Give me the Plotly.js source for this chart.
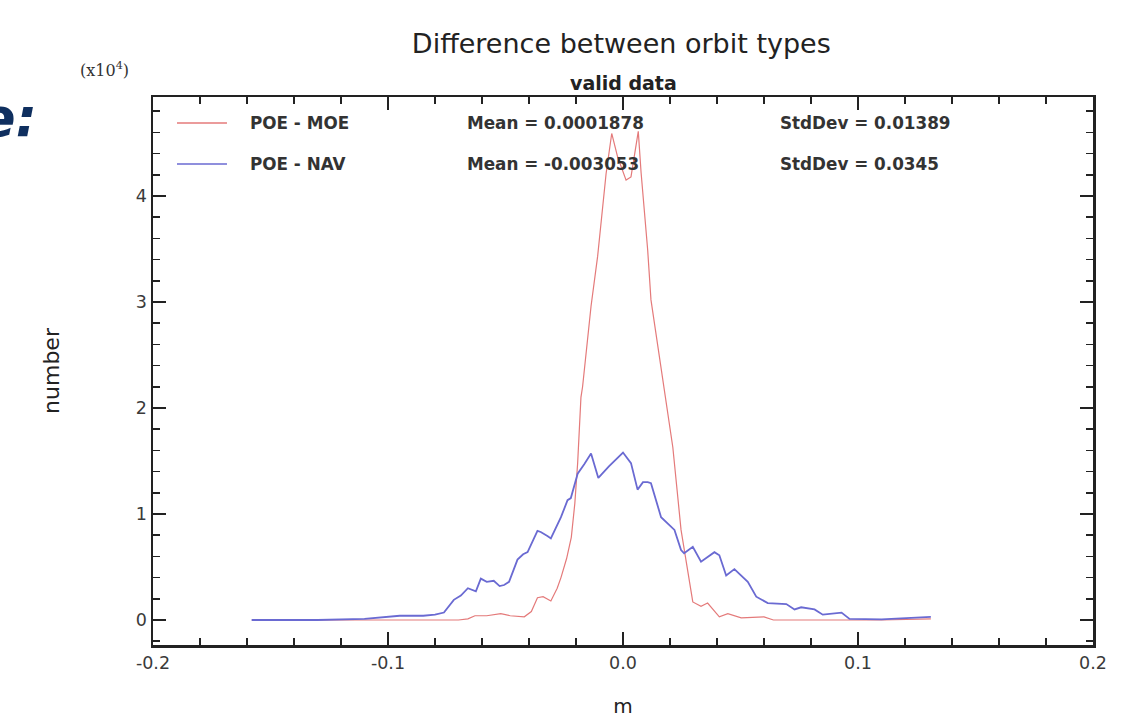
<!DOCTYPE html>
<html>
<head>
<meta charset="utf-8">
<script src="https://cdn.plot.ly/plotly-3.0.1.min.js"></script>
<style>
  html, body { margin: 0; padding: 0; background: #ffffff; }
  #chart { width: 1143px; height: 718px; }
</style>
</head>
<body>
<div id="chart"></div>
<script>
// ---- Data (counts in units of 10^4) ----
const seriesNames = ['POE - MOE', 'POE - NAV'];
const seriesMeans = ['0.0001878', '-0.003053'];
const seriesStdDevs = ['0.01389', '0.0345'];

const moeX = [-0.158, -0.12, -0.09, -0.07, -0.066, -0.063, -0.058, -0.055, -0.052, -0.048, -0.042,
  -0.039, -0.0364, -0.034, -0.0307, -0.028, -0.0264, -0.024, -0.022, -0.0205, -0.0193, -0.0179,
  -0.0172, -0.0136, -0.0108, -0.0072, -0.0048, -0.0023, 0.0013, 0.0034, 0.0065, 0.0077, 0.0105,
  0.0119, 0.0176, 0.0212, 0.0247, 0.0297, 0.0332, 0.036, 0.041, 0.0446, 0.0503, 0.06, 0.064,
  0.09, 0.11, 0.131];
const moeY = [0, 0, 0, 0, 0.01, 0.04, 0.04, 0.05, 0.06, 0.04, 0.03,
  0.08, 0.21, 0.22, 0.18, 0.30, 0.40, 0.58, 0.78, 1.10, 1.48, 2.10,
  2.20, 2.96, 3.43, 4.21, 4.59, 4.37, 4.15, 4.18, 4.61, 4.22, 3.49,
  3.02, 2.17, 1.63, 0.85, 0.17, 0.13, 0.16, 0.03, 0.06, 0.02, 0.03, 0.0,
  0.0, 0.0, 0.01];

const navX = [-0.158, -0.13, -0.11, -0.10, -0.095, -0.085, -0.08, -0.0762, -0.074, -0.072, -0.069,
  -0.066, -0.0626, -0.0605, -0.058, -0.055, -0.0525, -0.0506, -0.0485, -0.0449, -0.0425, -0.0406,
  -0.0364, -0.035, -0.032, -0.0307, -0.0264, -0.0236, -0.0222, -0.0193, -0.0165, -0.0136, -0.0105,
  -0.006, 0.0, 0.0034, 0.0062, 0.0085, 0.0105, 0.0119, 0.0162, 0.019, 0.0219, 0.0247, 0.026,
  0.0297, 0.0332, 0.0389, 0.041, 0.0439, 0.0474, 0.0531, 0.0567, 0.0616, 0.0695, 0.073, 0.0758,
  0.0815, 0.085, 0.093, 0.0964, 0.11, 0.131];
const navY = [0.0, 0.0, 0.01, 0.03, 0.04, 0.04, 0.05, 0.07, 0.13, 0.19, 0.23,
  0.30, 0.27, 0.39, 0.36, 0.37, 0.32, 0.33, 0.36, 0.57, 0.62, 0.64,
  0.84, 0.83, 0.79, 0.77, 0.97, 1.13, 1.15, 1.38, 1.47, 1.57, 1.34,
  1.45, 1.58, 1.48, 1.23, 1.30, 1.30, 1.29, 0.97, 0.91, 0.85, 0.66, 0.63,
  0.69, 0.55, 0.64, 0.61, 0.42, 0.48, 0.36, 0.22, 0.16, 0.15, 0.10, 0.12,
  0.10, 0.05, 0.07, 0.01, 0.005, 0.03];

const xTickVals = [-0.2, -0.1, 0.0, 0.1, 0.2];
const xTickText = ['-0.2', '-0.1', '0.0', '0.1', '0.2'];
const yTickVals = [0, 1, 2, 3, 4];
const yTickText = ['0', '1', '2', '3', '4'];

// ---- Styling ----
const colors = ['#e47a7a', '#6a6ad2'];
const widths = [1.2, 1.8];
const FONT = 'DejaVu Sans';
const AX = '#222222';

const traces = [
  { x: moeX, y: moeY, type: 'scatter', mode: 'lines', name: seriesNames[0],
    line: { color: colors[0], width: widths[0] } },
  { x: navX, y: navY, type: 'scatter', mode: 'lines', name: seriesNames[1],
    line: { color: colors[1], width: widths[1] } }
];

const commonAxis = {
  showline: true, linewidth: 2.5, linecolor: AX, mirror: 'allticks',
  ticks: 'inside', ticklen: 13, tickwidth: 2, tickcolor: AX,
  showgrid: false, zeroline: false,
  tickfont: { family: FONT, size: 17.5, color: '#3a3a3a' }
};

const annotations = [];
const shapes = [];
const rowY = [0.9526, 0.8777];
const legFont = { family: FONT, size: 16.8, color: '#333333', weight: 'bold' };
for (let i = 0; i < seriesNames.length; i++) {
  shapes.push({ type: 'line', xref: 'paper', yref: 'paper', x0: 0.0255, x1: 0.0787,
    y0: rowY[i], y1: rowY[i], line: { color: colors[i], width: 1.6 } });
  annotations.push({ xref: 'paper', yref: 'paper', x: 0.101, y: rowY[i], xanchor: 'left', yanchor: 'middle',
    text: seriesNames[i], showarrow: false, font: legFont });
  annotations.push({ xref: 'paper', yref: 'paper', x: 0.332, y: rowY[i], xanchor: 'left', yanchor: 'middle',
    text: 'Mean = ' + seriesMeans[i], showarrow: false, font: legFont });
  annotations.push({ xref: 'paper', yref: 'paper', x: 0.665, y: rowY[i], xanchor: 'left', yanchor: 'middle',
    text: 'StdDev = ' + seriesStdDevs[i], showarrow: false, font: legFont });
}
annotations.push({ xref: 'paper', yref: 'paper', x: 0.5, y: 1.0255, xanchor: 'center', yanchor: 'middle',
  text: 'valid data', showarrow: false, font: { family: FONT, size: 19, color: '#222222', weight: 'bold' } });
annotations.push({ xref: 'paper', yref: 'paper', x: -0.052, y: 1.05, xanchor: 'center', yanchor: 'middle',
  text: '(x10<sup>4</sup>)', showarrow: false, font: { family: 'DejaVu Serif', size: 16, color: '#333333' } });
annotations.push({ xref: 'paper', yref: 'paper', x: -0.121, y: 0.9635, xanchor: 'right', yanchor: 'middle',
  text: 'e:', showarrow: false, font: { family: FONT, size: 54, color: '#0f2f5f', weight: 'bold', style: 'italic' } });

const layout = {
  width: 1143, height: 718,
  margin: { l: 153, r: 50, t: 97, b: 73 },
  paper_bgcolor: '#ffffff', plot_bgcolor: '#ffffff',
  showlegend: false,
  title: { text: 'Difference between orbit types', x: 0.5436, xanchor: 'center', y: 0.94, yanchor: 'middle',
    font: { family: FONT, size: 27, color: '#222222' } },
  xaxis: Object.assign({}, commonAxis, {
    range: [-0.2, 0.2], tickvals: xTickVals, ticktext: xTickText,
    minor: { dtick: 0.02, tick0: 0, ticks: 'inside', ticklen: 7, tickwidth: 1.5, tickcolor: AX },
    title: { text: 'm', standoff: 43, font: { family: FONT, size: 20, color: '#222222' } }
  }),
  yaxis: Object.assign({}, commonAxis, {
    range: [-0.236, 4.934], tickvals: yTickVals, ticktext: yTickText,
    minor: { dtick: 0.2, tick0: 0, ticks: 'inside', ticklen: 7, tickwidth: 1.5, tickcolor: AX },
    title: { text: 'number', standoff: 70, font: { family: FONT, size: 22, color: '#222222' } }
  }),
  annotations: annotations,
  shapes: shapes
};

Plotly.newPlot('chart', traces, layout, { staticPlot: true, displayModeBar: false });
</script>
</body>
</html>
